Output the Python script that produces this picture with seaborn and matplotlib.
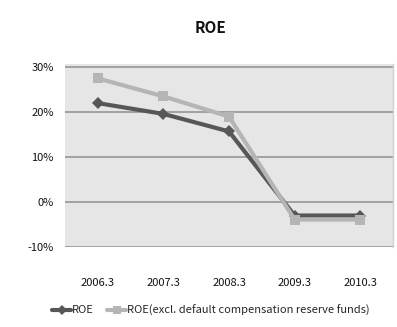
import matplotlib
matplotlib.use("Agg")
import matplotlib.pyplot as plt
import pandas as pd
import seaborn as sns

# Fiscal year ends and return-on-equity series (percent)
years = ["2006.3", "2007.3", "2008.3", "2009.3", "2010.3"]
roe = [22.0, 19.6, 15.7, -3.0, -3.0]
roe_excl = [27.5, 23.5, 19.0, -3.9, -3.9]
yticks = [-10, 0, 10, 20, 30]
ytick_labels = ["-10%", "0%", "10%", "20%", "30%"]

name_a = "ROE"
name_b = "ROE(excl. default compensation reserve funds)"

df = pd.DataFrame({
    "year": years * 2,
    "pos": list(range(len(years))) * 2,
    "value": roe + roe_excl,
    "series": [name_a] * len(years) + [name_b] * len(years),
})

sns.set_theme(style="white")
plt.rcParams["font.family"] = ["Noto Sans CJK KR", "DejaVu Sans"]

fig = plt.figure(figsize=(3.97, 3.27), dpi=100)
ax = fig.add_axes([65 / 397, 1 - 247 / 327, 328 / 397, 183 / 327])
ax.set_facecolor("#e6e6e6")

for y in yticks:
    ax.axhline(y, color="#9c9c9c", lw=1.3, zorder=1)

palette = {name_a: "#575757", name_b: "#b5b5b5"}
markers = {name_a: "D", name_b: "s"}

sns.lineplot(data=df[df.series == name_a], x="pos", y="value", hue="series",
             style="series", palette=palette, markers=markers, dashes=False,
             lw=3.0, markersize=6, markeredgewidth=0, ax=ax, zorder=3, legend=False)
sns.lineplot(data=df[df.series == name_b], x="pos", y="value", hue="series",
             style="series", palette=palette, markers=markers, dashes=False,
             lw=3.0, markersize=7, markeredgewidth=0, ax=ax, zorder=4, legend=False)

ax.set_xlim(-0.5, len(years) - 0.5)
ax.set_ylim(-10, 30.7)
ax.set_xticks(range(len(years)))
ax.set_xticklabels(years, fontsize=8, color="#111111")
ax.set_yticks(yticks)
ax.set_yticklabels(ytick_labels, fontsize=8, color="#111111")
ax.tick_params(axis="x", length=0, pad=22)
ax.tick_params(axis="y", length=0, pad=8)
ax.set_xlabel("")
ax.set_ylabel("")
for side in ["top", "left", "bottom"]:
    ax.spines[side].set_visible(False)
ax.spines["right"].set_color("#d0d0d0")
ax.spines["right"].set_linewidth(1.0)

fig.text(210 / 397, 1 - 28 / 327, "ROE", ha="center", va="center",
         fontsize=11, fontweight="bold", color="#111111")

from matplotlib.lines import Line2D
handles = [
    Line2D([], [], color=palette[name_a], lw=3.0, marker="D", markersize=5, markeredgewidth=0),
    Line2D([], [], color=palette[name_b], lw=3.0, marker="s", markersize=6, markeredgewidth=0),
]
fig.legend(handles, [name_a, name_b], loc="center", bbox_to_anchor=(211 / 397, 1 - 310 / 327),
           ncol=2, frameon=False, fontsize=8, handlelength=1.7, handletextpad=0.1,
           columnspacing=1.2)

fig.savefig("out.png", dpi=100)
